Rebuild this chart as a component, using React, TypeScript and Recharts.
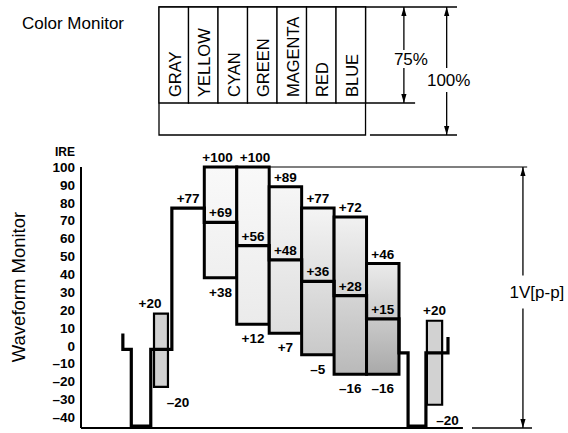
import React from 'react';
import {
  ComposedChart,
  XAxis,
  YAxis,
  Line,
  Scatter,
  ReferenceArea,
  ReferenceLine,
} from 'recharts';

const FONT = '"Liberation Sans", Arial, Helvetica, sans-serif';

// --- Color monitor (top) ---
const monitorBars = ['GRAY', 'YELLOW', 'CYAN', 'GREEN', 'MAGENTA', 'RED', 'BLUE'];
const screenTop = 100; // % of picture height
const barsBottom = 25; // bars fill the upper 75 %

// --- Waveform monitor (IRE) ---
const yTicks = [-40, -30, -20, -10, 0, 10, 20, 30, 40, 50, 60, 70, 80, 90, 100];
const luminance = [77, 69, 56, 48, 36, 28, 15];
const chromaTop = [null, 100, 100, 89, 77, 72, 46];
const chromaBottom = [null, 38, 12, 7, -5, -16, -16];
const boxShade = [
  null,
  ['#f9f9f9', '#efefef'],
  ['#f9f9f9', '#ebebeb'],
  ['#f6f6f6', '#dedede'],
  ['#f4f4f4', '#c9c9c9'],
  ['#f1f1f1', '#b9b9b9'],
  ['#ebebeb', '#a9a9a9'],
];

// sync / blanking before and after the bars (time in bar widths)
const leadT = [-1.51, -1.51, -1.25, -1.25, -0.65, -0.65, 0];
const leadV = [6, -2, -2, -45, -45, -2, -2];
const tailT = [7, 7.28, 7.28, 7.83, 7.83, 8.51, 8.51];
const tailV = [-4, -4, -45, -45, -4, -4, 4];

// color burst packets
const burstStart = [-0.55, 7.86];
const burstEnd = [-0.12, 8.33];
const burstTop = [18, 14];
const burstBottom = [-23, -33];
const burstAmplitude = 20;

const fmt = (v: number) => (v > 0 ? `+${v}` : v < 0 ? `\u2013${Math.abs(v)}` : '0');

const trace = [
  ...leadT.map((t, i) => ({ t, v: leadV[i] })),
  ...luminance.flatMap((v, i) => [
    { t: i, v },
    { t: i + 1, v },
  ]),
  ...tailT.map((t, i) => ({ t, v: tailV[i] })),
];

const lumLabels = luminance.map((v, i) => ({ t: i + 0.5, v, label: fmt(v) }));
const topLabels = chromaTop
  .map((v, i) => (v == null ? null : { t: i + 0.5, v, label: fmt(v), i }))
  .filter(Boolean) as { t: number; v: number; label: string; i: number }[];
const bottomLabels = chromaBottom
  .map((v, i) => (v == null ? null : { t: i + 0.5, v, label: fmt(v) }))
  .filter(Boolean) as { t: number; v: number; label: string }[];
const burstTopLabels = burstTop.map((v, i) => ({ t: (burstStart[i] + burstEnd[i]) / 2, v, label: fmt(burstAmplitude), i }));
const burstBottomLabels = burstBottom.map((v, i) => ({ t: (burstStart[i] + burstEnd[i]) / 2, v, label: fmt(-burstAmplitude), i }));
const monitorLabels = monitorBars.map((label, i) => ({ t: i + 0.5, v: barsBottom, label }));

// label nudges (px)
const topDx = [0, -3, 2, 0, 0, 0, 0];
const burstTopDx = [-11, 0];
const burstBottomDx = [17, 13];

const numStyle = { fontFamily: FONT, fontSize: 13.5, fontWeight: 700, fill: '#000' };

function dimArrow(text?: string, tx = 0, ty = 0, w = 0, h = 0, fs = 17) {
  return (p: any) => {
    const x = p.x1;
    const top = Math.min(p.y1, p.y2);
    const bot = Math.max(p.y1, p.y2);
    const mid = (top + bot) / 2;
    return (
      <g>
        <line x1={x} y1={top} x2={x} y2={bot} stroke="#000" strokeWidth={1.3} />
        <path d={`M${x},${top} l-2.6,9 l5.2,0 z`} fill="#000" />
        <path d={`M${x},${bot} l-2.6,-9 l5.2,0 z`} fill="#000" />
        {text && (
          <g>
            <rect x={x + tx - w / 2} y={mid + ty - h / 2} width={w} height={h} fill="#fff" />
            <text
              x={x + tx}
              y={mid + ty}
              textAnchor="middle"
              dominantBaseline="central"
              fontFamily={FONT}
              fontSize={fs}
              fill="#000"
            >
              {text}
            </text>
          </g>
        )}
      </g>
    );
  };
}

const plainLine = (p: any) => (
  <line x1={p.x1} y1={p.y1} x2={p.x2} y2={p.y2} stroke="#000" strokeWidth={p.strokeWidth} />
);

function ColorMonitor() {
  return (
    <ComposedChart width={568} height={145} margin={{ top: 7, right: 111, bottom: 10, left: 159 }}>
      <XAxis type="number" dataKey="t" domain={[0, 10.1]} hide />
      <YAxis type="number" dataKey="v" domain={[0, screenTop]} hide />
      <ReferenceArea
        x1={0}
        x2={monitorBars.length}
        y1={0}
        y2={screenTop}
        fill="none"
        stroke="#000"
        strokeWidth={1.3}
        ifOverflow="visible"
        label={({ viewBox }: any) => (
          <text x={viewBox.x - 137} y={viewBox.y + 22} fontFamily={FONT} fontSize={17} fill="#000">
            Color Monitor
          </text>
        )}
      />
      {monitorBars.map((name, i) => (
        <ReferenceArea
          key={name}
          x1={i}
          x2={i + 1}
          y1={barsBottom}
          y2={screenTop}
          fill="#fff"
          fillOpacity={1}
          stroke="#000"
          strokeWidth={1.3}
          ifOverflow="visible"
        />
      ))}
      <ReferenceLine
        segment={[{ x: monitorBars.length, y: screenTop }, { x: 10.1, y: screenTop }]}
        strokeWidth={1.3}
        ifOverflow="visible"
        shape={plainLine}
      />
      <ReferenceLine
        segment={[{ x: monitorBars.length, y: barsBottom }, { x: 8.68, y: barsBottom }]}
        strokeWidth={1.3}
        ifOverflow="visible"
        shape={plainLine}
      />
      <ReferenceLine
        segment={[{ x: 7.15, y: 0 }, { x: 10.1, y: 0 }]}
        strokeWidth={1.3}
        ifOverflow="visible"
        shape={plainLine}
      />
      <ReferenceLine
        segment={[{ x: 8.3, y: screenTop }, { x: 8.3, y: barsBottom }]}
        ifOverflow="visible"
        shape={dimArrow('75%', 7, 4, 38, 18)}
      />
      <ReferenceLine
        segment={[{ x: 9.75, y: screenTop }, { x: 9.75, y: 0 }]}
        ifOverflow="visible"
        shape={dimArrow('100%', 2, 9, 44, 24)}
      />
      <Scatter
        data={monitorLabels}
        isAnimationActive={false}
        shape={(p: any) => (
          <text
            transform={`translate(${p.cx + 7},${p.cy - 6}) rotate(-90)`}
            fontFamily={FONT}
            fontSize={16.5}
            fill="#000"
          >
            {p.payload.label}
          </text>
        )}
      />
    </ComposedChart>
  );
}

function WaveformMonitor() {
  return (
    <ComposedChart width={568} height={293} margin={{ top: 27, right: 35, bottom: 5, left: 0 }}>
      <defs>
        {boxShade.map((s, i) =>
          s ? (
            <linearGradient key={i} id={`cbShade${i}`} x1="0" y1="0" x2="0" y2="1">
              <stop offset="0%" stopColor={s[0]} />
              <stop offset="100%" stopColor={s[1]} />
            </linearGradient>
          ) : null
        )}
      </defs>
      <XAxis type="number" dataKey="t" domain={[-2.8, 11.13]} hide />
      <YAxis
        type="number"
        dataKey="v"
        domain={[-46, 100]}
        ticks={yTicks}
        interval={0}
        width={81}
        tickSize={0}
        tickMargin={6}
        tickLine={false}
        axisLine={{ stroke: '#000', strokeWidth: 2 }}
        tick={numStyle}
        tickFormatter={(v: number) => fmt(v).replace('+', '')}
        label={({ viewBox }: any) => (
          <g>
            <text x={65} y={viewBox.y - 11} textAnchor="middle" {...numStyle} fontSize={12}>
              IRE
            </text>
            <text
              transform={`translate(25,${viewBox.y + 120}) rotate(-90)`}
              textAnchor="middle"
              fontFamily={FONT}
              fontSize={18.5}
              fill="#000"
            >
              Waveform Monitor
            </text>
          </g>
        )}
      />
      {chromaTop.map((top, i) =>
        top == null ? null : (
          <ReferenceArea
            key={`c${i}`}
            x1={i}
            x2={i + 1}
            y1={chromaBottom[i] as number}
            y2={top}
            fill={`url(#cbShade${i})`}
            fillOpacity={1}
            stroke="#000"
            strokeWidth={3}
            ifOverflow="visible"
          />
        )
      )}
      {burstTop.map((top, i) => (
        <ReferenceArea
          key={`b${i}`}
          x1={burstStart[i]}
          x2={burstEnd[i]}
          y1={burstBottom[i]}
          y2={top}
          fill="#d2d2d2"
          fillOpacity={1}
          stroke="#000"
          strokeWidth={2.2}
          ifOverflow="visible"
        />
      ))}
      <ReferenceLine
        segment={[{ x: -2.8, y: -46 }, { x: 8.97, y: -46 }]}
        strokeWidth={2}
        ifOverflow="visible"
        shape={plainLine}
      />
      <ReferenceLine
        segment={[{ x: 9.25, y: -46 }, { x: 11.1, y: -46 }]}
        strokeWidth={1.3}
        ifOverflow="visible"
        shape={plainLine}
      />
      <ReferenceLine
        segment={[{ x: 3, y: 100 }, { x: 10.95, y: 100 }]}
        strokeWidth={1.2}
        ifOverflow="visible"
        shape={plainLine}
      />
      <ReferenceLine
        segment={[{ x: 10.82, y: 100 }, { x: 10.82, y: -46 }]}
        ifOverflow="visible"
        shape={dimArrow('1V[p-p]', 14, -5.5, 62, 33)}
      />
      <Line
        data={trace}
        dataKey="v"
        type="linear"
        stroke="#000"
        strokeWidth={3.2}
        strokeLinejoin="miter"
        strokeLinecap="square"
        dot={false}
        activeDot={false}
        isAnimationActive={false}
      />
      <Scatter
        data={lumLabels}
        isAnimationActive={false}
        shape={(p: any) => (
          <text x={p.cx} y={p.cy - 5} textAnchor="middle" {...numStyle}>
            {p.payload.label}
          </text>
        )}
      />
      <Scatter
        data={topLabels}
        isAnimationActive={false}
        shape={(p: any) => (
          <text x={p.cx + topDx[p.payload.i]} y={p.cy - 5} textAnchor="middle" {...numStyle}>
            {p.payload.label}
          </text>
        )}
      />
      <Scatter
        data={bottomLabels}
        isAnimationActive={false}
        shape={(p: any) => (
          <text x={p.cx} y={p.cy + 19} textAnchor="middle" {...numStyle}>
            {p.payload.label}
          </text>
        )}
      />
      <Scatter
        data={burstTopLabels}
        isAnimationActive={false}
        shape={(p: any) => (
          <text x={p.cx + burstTopDx[p.payload.i]} y={p.cy - 6} textAnchor="middle" {...numStyle}>
            {p.payload.label}
          </text>
        )}
      />
      <Scatter
        data={burstBottomLabels}
        isAnimationActive={false}
        shape={(p: any) => (
          <text x={p.cx + burstBottomDx[p.payload.i]} y={p.cy + 20} textAnchor="middle" {...numStyle}>
            {p.payload.label}
          </text>
        )}
      />
    </ComposedChart>
  );
}

export default function App() {
  return (
    <div
      style={{
        position: 'absolute',
        left: 0,
        top: 0,
        width: 568,
        height: 433,
        background: '#fff',
        fontFamily: FONT,
      }}
    >
      <div style={{ position: 'absolute', left: 0, top: 0 }}>
        <ColorMonitor />
      </div>
      <div style={{ position: 'absolute', left: 0, top: 140 }}>
        <WaveformMonitor />
      </div>
    </div>
  );
}
